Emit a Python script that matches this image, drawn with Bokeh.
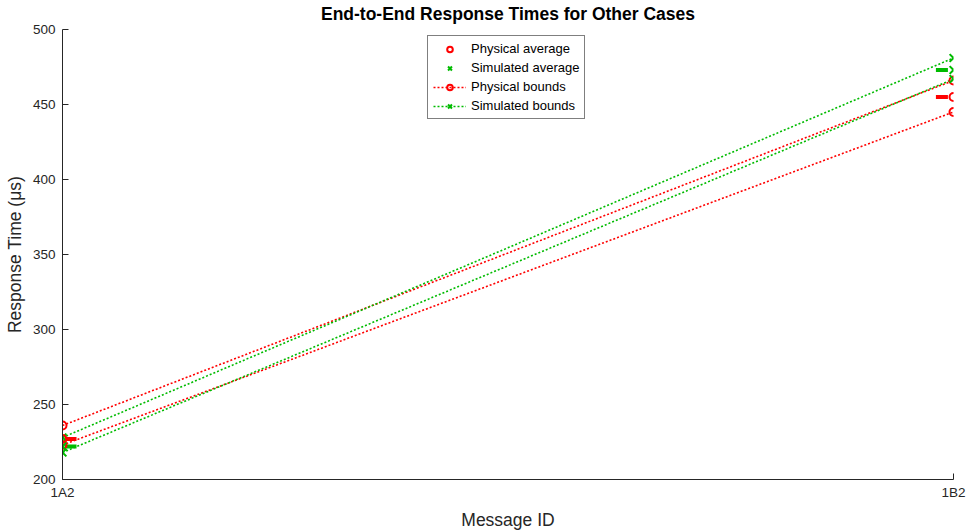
from bokeh.plotting import figure
from bokeh.models import (Range1d, FixedTicker, Legend, LegendItem,
                          ColumnDataSource, CDSView, IndexFilter)
from bokeh.transform import dodge
from bokeh.embed import file_html
from bokeh.resources import INLINE

# ---- data ----
messages = ["1A2", "1B2"]
phys_avg = [227, 455]
sim_avg = [222, 473]
phys_max = [236, 466]
phys_min = [223, 445]
sim_max = [228, 481]
sim_min = [218, 467]
y_ticks = [200, 250, 300, 350, 400, 450, 500]

RED = "#FF0000"
GREEN = "#00BB00"
FONT = "Liberation Sans"
AX = "#262626"

x = list(range(1, len(messages) + 1))
src = ColumnDataSource(dict(x=x, pa=phys_avg, sa=sim_avg, pmax=phys_max,
                            pmin=phys_min, smax=sim_max, smin=sim_min))

p = figure(width=967, height=532, output_backend="svg", toolbar_location=None,
           x_range=Range1d(1, 2), y_range=Range1d(200, 500),
           min_border_left=62, min_border_right=14, min_border_top=29,
           min_border_bottom=50)

p.title.text = "End-to-End Response Times for Other Cases"
p.title.align = "center"
p.title.vertical_align = "top"
p.title.text_font = FONT
p.title.text_font_size = "17.5px"
p.title.text_font_style = "bold"
p.title.text_color = "black"
p.title.standoff = 7

p.outline_line_color = None
p.grid.visible = False

p.xaxis.ticker = FixedTicker(ticks=x)
p.xaxis.major_label_overrides = {xi: m for xi, m in zip(x, messages)}
p.yaxis.ticker = FixedTicker(ticks=y_ticks)
p.xaxis.axis_label = "Message ID"
p.yaxis.axis_label = "Response Time (μs)"
for ax in (p.xaxis, p.yaxis):
    ax.axis_line_color = AX
    ax.major_tick_line_color = AX
    ax.major_tick_in = 6
    ax.major_tick_out = 0
    ax.minor_tick_line_color = None
    ax.major_label_text_font = FONT
    ax.major_label_text_font_size = "13.5px"
    ax.major_label_text_color = AX
    ax.axis_label_text_font = FONT
    ax.axis_label_text_font_size = "17.5px"
    ax.axis_label_text_font_style = "normal"
    ax.axis_label_text_color = AX
p.xaxis.major_label_standoff = 5
p.xaxis.axis_label_standoff = 7
p.yaxis.major_label_standoff = 7
p.yaxis.axis_label_standoff = 5

dash = "2 2"
lp1 = p.line("x", "pmax", source=src, color=RED, line_width=1.6, line_dash=dash)
lp2 = p.line("x", "pmin", source=src, color=RED, line_width=1.6, line_dash=dash)
ls1 = p.line("x", "smax", source=src, color=GREEN, line_width=1.6, line_dash=dash)
ls2 = p.line("x", "smin", source=src, color=GREEN, line_width=1.6, line_dash=dash)

# average "caps" drawn just inside each end
left = CDSView(filter=IndexFilter([0]))
right = CDSView(filter=IndexFilter([1]))
for view, off in ((left, 0.009), (right, -0.013)):
    p.scatter(dodge("x", off, range=p.x_range), "pa", source=src, view=view,
              marker="dash", size=12, line_width=4, color=RED)
    p.scatter(dodge("x", off, range=p.x_range), "sa", source=src, view=view,
              marker="dash", size=12, line_width=4, color=GREEN)

mp1 = p.scatter("x", "pmax", source=src, marker="circle", size=8, line_width=2,
                line_color=RED, fill_color=None)
mp2 = p.scatter("x", "pmin", source=src, marker="circle", size=8, line_width=2,
                line_color=RED, fill_color=None)
ms1 = p.scatter("x", "smax", source=src, marker="x", size=11, line_width=2,
                line_color=GREEN)
ms2 = p.scatter("x", "smin", source=src, marker="x", size=11, line_width=2,
                line_color=GREEN)
pa = p.scatter("x", "pa", source=src, marker="circle", size=8, line_width=2,
               line_color=RED, fill_color=None)
sa = p.scatter("x", "sa", source=src, marker="x", size=11, line_width=2,
               line_color=GREEN)

legend = Legend(items=[
    LegendItem(label="Physical average", renderers=[pa]),
    LegendItem(label="Simulated average", renderers=[sa]),
    LegendItem(label="Physical bounds", renderers=[lp1, mp1]),
    LegendItem(label="Simulated bounds", renderers=[ls1, ms1]),
], location=(365, 360))
legend.label_text_font = FONT
legend.label_text_font_size = "13px"
legend.label_text_color = "black"
legend.glyph_width = 33
legend.glyph_height = 14
legend.label_height = 14
legend.spacing = 4
legend.padding = 5
legend.margin = 0
legend.label_standoff = 5
legend.border_line_color = "black"
legend.border_line_width = 1
legend.background_fill_alpha = 1
p.add_layout(legend, "center")

open("out.html", "w").write(file_html(p, INLINE))
